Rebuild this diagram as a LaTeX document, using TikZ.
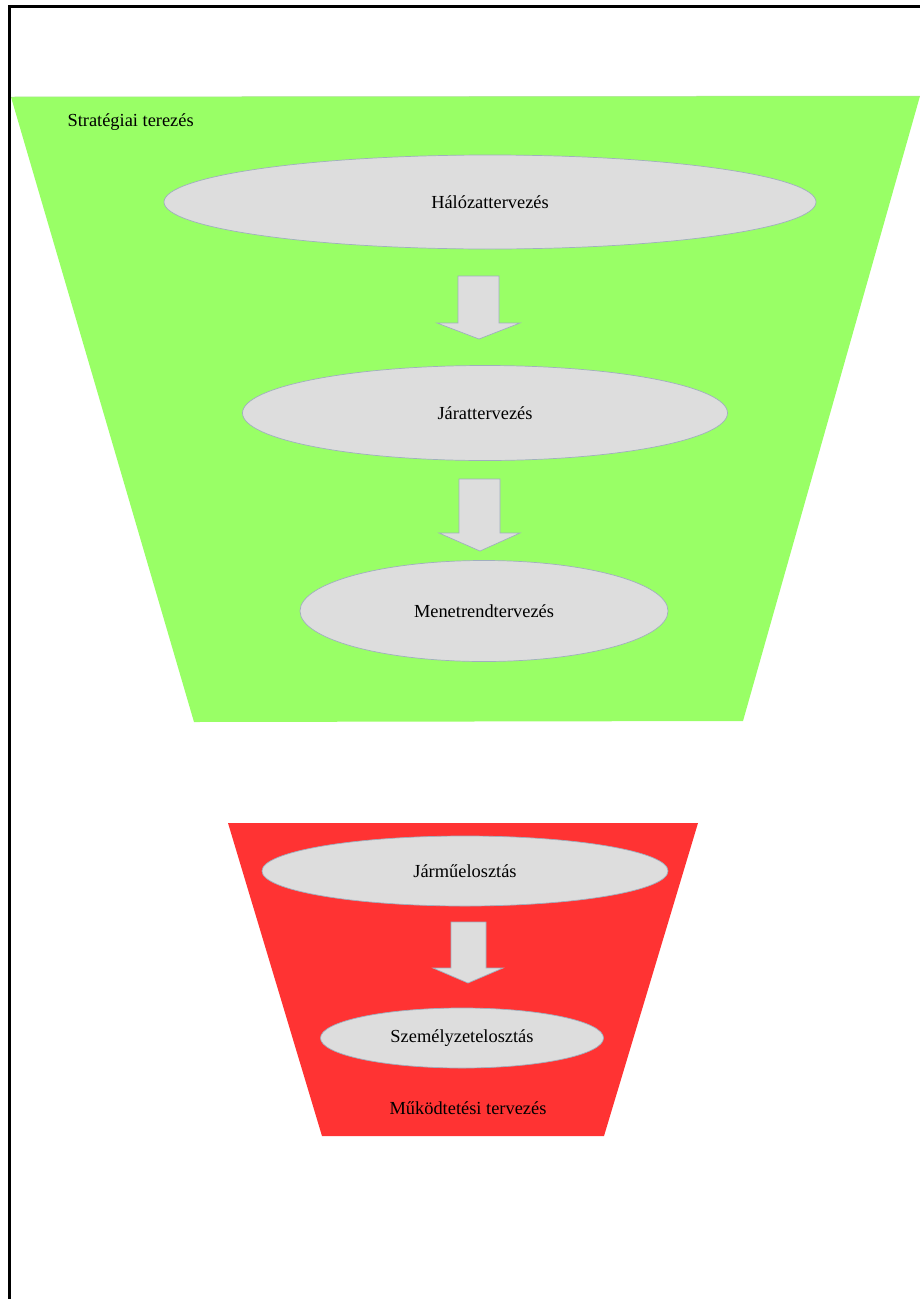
\documentclass[tikz,border=0pt]{standalone}
\usepackage{fontspec}
\setmainfont{Liberation Serif}
\usetikzlibrary{shapes.geometric}
\definecolor{stratgreen}{RGB}{153, 255, 102}
\definecolor{opred}{RGB}{255, 51, 51}
\definecolor{ellgray}{RGB}{221, 221, 221}
\definecolor{edgeblue}{RGB}{160, 175, 190}

\tikzset{
  phase/.style={draw=edgeblue, line width=0.7pt, fill=ellgray, ellipse, inner sep=0pt},
  blockarrow/.style={draw=edgeblue, line width=0.7pt, fill=ellgray},
  every node/.style={font=\fontsize{18.4}{21}\selectfont}
}

\begin{document}
\begin{tikzpicture}[x=1pt, y=-1pt]
    \useasboundingbox (0,0) rectangle (920,1299);
    \draw[line width=2.5pt] (9.5,1299) -- (9.5,6.5) -- (920,6.5);

    % strategic level
    \fill[stratgreen] (11,97) -- (920,96) -- (743,721) -- (194,722) -- cycle;
    \draw[stratgreen!80!black!60, line width=0.5pt] (11,97) -- (920,96);
    \node[anchor=west] (strat) at (64,122) {Stratégiai terezés};

    \node[phase, minimum width=652, minimum height=94] (halo) at (490,202) {Hálózattervezés};
    \node[phase, minimum width=485, minimum height=95] (jarat) at (485,413) {Járattervezés};
    \node[phase, minimum width=368, minimum height=101] (menet) at (484,611) {Menetrendtervezés};

    \draw[blockarrow] (458,276) -- (499,276) -- (499,323) -- (520,323) -- (479,339)
        -- (437,323) -- (458,323) -- cycle;
    \draw[blockarrow] (459,479) -- (500,479) -- (500,533) -- (520,533) -- (480,551)
        -- (439,533) -- (459,533) -- cycle;

    % operational level
    \fill[opred] (228,823) -- (698,823) -- (604,1136) -- (322,1136) -- cycle;

    \node[phase, minimum width=406, minimum height=70] (jarmu) at (465,871) {Járműelosztás};
    \node[phase, minimum width=283, minimum height=60] (szem) at (462,1038) {Személyzetelosztás};

    \draw[blockarrow] (451,922) -- (486,922) -- (486,968) -- (503,968) -- (468,983)
        -- (433,968) -- (451,968) -- cycle;

    \node (mukod) at (468,1108) {Működtetési tervezés};
\end{tikzpicture}
\end{document}
